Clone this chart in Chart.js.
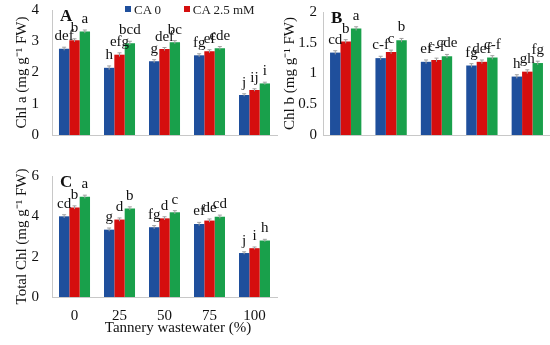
<!DOCTYPE html>
<html>
<head>
<meta charset="utf-8">
<script src="https://cdn.jsdelivr.net/npm/chart.js@4"></script>
<style>
  body { margin: 0; background: #fff; }
  #wrap { position: relative; width: 550px; height: 345px; overflow: hidden; font-family: "Liberation Serif", serif; }
  canvas { position: absolute; }
  #legend { position: absolute; left: 125px; top: 2px; font-size: 13px; color: #222; white-space: nowrap; }
  #legend span.sq { display: inline-block; width: 6px; height: 6px; margin-right: 3px; vertical-align: 2px; }
</style>
</head>
<body>
<div id="wrap">
  <canvas id="chartA" style="left:0;top:-12px" width="280" height="169"></canvas>
  <canvas id="chartB" style="left:280px;top:-3px" width="270" height="153"></canvas>
  <canvas id="chartC" style="left:0;top:154px" width="280" height="191"></canvas>
  <div id="legend"><span class="sq" style="background:#1f4f9c"></span>CA 0 &nbsp; &nbsp; &nbsp; <span class="sq" style="background:#d50e0e"></span>CA 2.5 mM</div>
</div>
<script>
// ---------------- DATA ----------------

const categories = ["0", "25", "50", "75", "100"];
const seriesNames = ["CA 0", "CA 2.5 mM", "CA 5 mM"];
const colors = ["#1f4f9c", "#d50e0e", "#19a04b"];

// Chl a
const chlA0 = [2.76, 2.15, 2.36, 2.55, 1.28];
const chlA25 = [3.03, 2.57, 2.75, 2.68, 1.44];
const chlA5 = [3.31, 2.94, 2.97, 2.78, 1.65];
const chlAErr = [0.05, 0.06, 0.05, 0.05, 0.04];
const chlALetters = [["def", "b", "a"], ["h", "efg", "bcd"], ["g", "def", "bc"], ["fg", "ef", "cde"], ["j", "ij", "i"]];

// Chl b
const chlB0 = [1.34, 1.25, 1.19, 1.13, 0.95];
const chlB25 = [1.52, 1.35, 1.22, 1.19, 1.03];
const chlB5 = [1.73, 1.54, 1.28, 1.26, 1.17];
const chlBErr = [0.03, 0.03, 0.03, 0.03, 0.03];
const chlBLetters = [["cd", "b", "a"], ["c-f", "c", "b"], ["ef", "c-f", "cde"], ["fg", "def", "c-f"], ["h", "gh", "fg"]];

// Total Chl
const totChl0 = [4.0, 3.34, 3.46, 3.62, 2.18];
const totChl25 = [4.44, 3.84, 3.9, 3.79, 2.42];
const totChl5 = [4.97, 4.39, 4.2, 3.98, 2.8];
const totChlErr = [0.08, 0.08, 0.08, 0.08, 0.06];
const totChlLetters = [["cd", "b", "a"], ["g", "d", "b"], ["fg", "d", "c"], ["ef", "de", "cd"], ["j", "i", "h"]];

const xTitle = "Tannery wastewater (%)";

// ---------------- HELPERS ----------------

const serif = "'Liberation Serif', 'Times New Roman', serif";

// error bars, significance letters, panel letter, x title
const annotate = {
    id: "annotate",
    afterDatasetsDraw(chart, args, opts) {
        const ctx = chart.ctx;
        const y = chart.scales.y;
        ctx.save();
        chart.data.datasets.forEach((ds, di) => {
            const meta = chart.getDatasetMeta(di);
            meta.data.forEach((bar, i) => {
                const v = ds.data[i];
                const e = opts.err[i];
                const yTop = y.getPixelForValue(v + e);
                const yBot = y.getPixelForValue(v - e);
                ctx.strokeStyle = "#a0a0a0";
                ctx.lineWidth = 1;
                ctx.beginPath();
                ctx.moveTo(bar.x, yTop); ctx.lineTo(bar.x, yBot);
                ctx.moveTo(bar.x - 2, yTop); ctx.lineTo(bar.x + 2, yTop);
                ctx.stroke();
                ctx.fillStyle = "#111";
                ctx.font = "15px " + serif;
                ctx.textAlign = "center";
                ctx.textBaseline = "alphabetic";
                ctx.fillText(opts.letters[i][di], bar.x, yTop - 7);
            });
        });
        const area = chart.chartArea;
        ctx.font = "bold 17px " + serif;
        ctx.textAlign = "left";
        ctx.textBaseline = "top";
        ctx.fillStyle = "#111";
        ctx.fillText(opts.panel, area.left + 8, area.top - 2);
        if (opts.xTitle) {
            ctx.font = "15px " + serif;
            ctx.textAlign = "center";
            ctx.textBaseline = "middle";
            ctx.fillText(opts.xTitle, 178, area.bottom + 31);
        }
        ctx.restore();
    }
};

function makeChart(id, s0, s1, s2, err, letters, panel, yMax, yStep, yTitle, opt) {
    const ctx = document.getElementById(id).getContext("2d");
    return new Chart(ctx, {
        type: "bar",
        data: {
            labels: categories,
            datasets: [s0, s1, s2].map((d, k) => ({
                label: seriesNames[k],
                data: d,
                backgroundColor: colors[k],
                categoryPercentage: 0.69,
                barPercentage: 1.0
            }))
        },
        options: {
            responsive: false,
            animation: false,
            layout: { padding: { top: 0, right: opt.padRight, left: 0, bottom: 0 } },
            plugins: {
                legend: { display: false },
                tooltip: { enabled: false },
                annotate: { err: err, letters: letters, panel: panel, xTitle: opt.showX ? xTitle : null }
            },
            scales: {
                x: {
                    grid: { display: false, drawTicks: false },
                    border: { display: true, color: "#c8c8c8" },
                    ticks: { display: opt.showX, color: "#111", font: { family: serif, size: 15 }, padding: 10 },
                    afterFit: s => { s.height = opt.xHeight; }
                },
                y: {
                    min: 0, max: yMax,
                    grid: { display: false, drawTicks: false },
                    border: { display: true, color: "#c8c8c8" },
                    ticks: {
                        stepSize: yStep, color: "#111", font: { family: serif, size: 15 }, padding: opt.tickPad,
                        callback: v => String(v)
                    },
                    title: { display: true, text: yTitle, color: "#111", font: { family: serif, size: 15 }, padding: { top: opt.titlePad, bottom: 0 } },
                    afterFit: s => { s.width = opt.yWidth; }
                }
            }
        },
        plugins: [annotate]
    });
}

makeChart("chartA", chlA0, chlA25, chlA5, chlAErr, chlALetters, "A", 4, 1,
    "Chl a (mg g\u207B\u00B9 FW)", { padRight: 3, xHeight: 10, yWidth: 52, showX: false, titlePad: 13, tickPad: 13 });
makeChart("chartB", chlB0, chlB25, chlB5, chlBErr, chlBLetters, "B", 2, 0.5,
    "Chl b (mg g\u207B\u00B9 FW)", { padRight: 0, xHeight: 10, yWidth: 43, showX: false, titlePad: 1, tickPad: 6 });
makeChart("chartC", totChl0, totChl25, totChl5, totChlErr, totChlLetters, "C", 6, 2,
    "Total Chl (mg g\u207B\u00B9 FW)", { padRight: 3, xHeight: 48, yWidth: 52, showX: true, titlePad: 13, tickPad: 13 });
</script>
</body>
</html>
